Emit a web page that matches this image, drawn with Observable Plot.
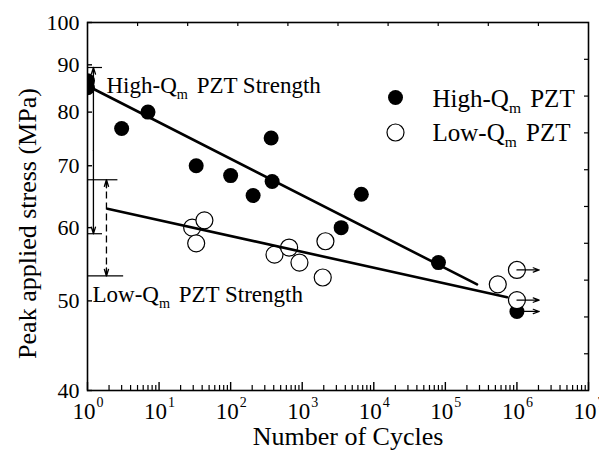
<!DOCTYPE html>
<html><head><meta charset="utf-8">
<script src="https://cdn.jsdelivr.net/npm/d3@7"></script>
<script src="https://cdn.jsdelivr.net/npm/@observablehq/plot@0.6"></script>
<style>body{margin:0;background:#fff;} svg{display:block}</style>
</head><body><div id="chart"></div>
<script>
// ---- data ----
const highCycles = [1, 1, 3, 7, 33, 100, 206, 368, 380, 3500, 6700, 80000, 1e6];
const highStress = [86.5, 85, 76.8, 80, 70, 68.3, 65, 75, 67.3, 60, 65.2, 55, 48.7];
const lowCycles = [29, 33, 43, 410, 656, 915, 1935, 2110, 5.4e5, 1e6, 1e6];
const lowStress = [60, 57.7, 61.1, 56.1, 57.1, 55, 53, 58, 52.1, 54, 50.1];
const highFitCycles = [1.2, 2.77e5];
const highFitStress = [84.8, 52.1];
const lowFitCycles = [1.9, 7.3e5];
const lowFitStress = [62.9, 50.45];
const runoutCycles = [1e6, 1e6, 1e6];
const runoutStress = [54.0, 50.1, 48.7];
const runoutEnd = 2.05e6;
const strengthNames = ["High-Q{m} PZT Strength", "Low-Q{m} PZT Strength"];
const strengthUpper = [89.4, 67.6];
const strengthLower = [59.1, 53.2];
const strengthArrowX = [1.21, 1.84];
const strengthUpperBarEnd = [1.62, 2.66];
const strengthLowerBarEnd = [1.62, 3.2];
const seriesNames = ["High-Q{m} PZT", "Low-Q{m} PZT"];
const yTicks = [40, 50, 60, 70, 80, 90, 100];
const xDecades = [1, 10, 100, 1e3, 1e4, 1e5, 1e6, 1e7];
const xExponents = ["0", "1", "2", "3", "4", "5", "6", "7"];
const topTicks = [5.01, 25.1, 126, 631, 3162, 15849, 79433, 398107, 1995262];
const rightTicks = [91.24, 83.26, 75.97, 69.31, 63.25, 57.71, 52.65, 48.04, 43.83];

// ---- tables ----
const high = highCycles.map((c, i) => ({c, s: highStress[i]}));
const low = lowCycles.map((c, i) => ({c, s: lowStress[i]}));
const highFit = highFitCycles.map((c, i) => ({c, s: highFitStress[i]}));
const lowFit = lowFitCycles.map((c, i) => ({c, s: lowFitStress[i]}));
const runouts = runoutCycles.map((c, i) => ({c, s: runoutStress[i]}));
const strength = strengthNames.map((n, i) => ({
  n, hi: strengthUpper[i], lo: strengthLower[i], ax: strengthArrowX[i],
  mid: Math.sqrt(strengthUpper[i] * strengthLower[i]),
  hiEnd: strengthUpperBarEnd[i], loEnd: strengthLowerBarEnd[i]
}));
const xMinor = [];
for (const d of xDecades.slice(0, -1)) for (let k = 2; k <= 9; k++) xMinor.push(d * k);

const W = 599, H = 452, mL = 87, mR = 11, mT = 22, mB = 62;
const iW = W - mL - mR, iH = H - mT - mB;
const font = "'Liberation Serif', 'Times New Roman', serif";
const M = {lineAnchor: "middle"};

const chart = Plot.plot({
  width: W, height: H,
  marginLeft: mL, marginRight: mR, marginTop: mT, marginBottom: mB,
  style: {fontFamily: font, fontSize: "22px", color: "#000", background: "#fff", overflow: "visible"},
  x: {type: "log", domain: [1, 1e7], axis: null},
  y: {type: "log", domain: [40, 100], axis: null},
  marks: [
    // ticks
    Plot.tickX(xMinor, {x: d => d, insetTop: iH - 5, strokeWidth: 1.2}),
    Plot.tickX(xDecades, {x: d => d, insetTop: iH - 8, strokeWidth: 1.4}),
    Plot.tickX(topTicks, {x: d => d, insetBottom: iH - 4, strokeWidth: 1.2}),
    Plot.tickY(yTicks, {y: d => d, insetRight: iW - 5, strokeWidth: 1.4}),
    Plot.tickY(rightTicks, {y: d => d, insetLeft: iW - 4, strokeWidth: 1.2}),
    // tick labels
    Plot.text(yTicks, {...M, y: d => d, text: d => String(d), frameAnchor: "left", dx: -8, textAnchor: "end", fontSize: 22}),
    Plot.text(xDecades, {...M, x: d => d, text: () => "10", frameAnchor: "bottom", dy: 21, dx: 8, textAnchor: "end", fontSize: 23}),
    Plot.text(xDecades, {...M, x: d => d, text: (d, i) => xExponents[i], frameAnchor: "bottom", dy: 12, dx: 9, textAnchor: "start", fontSize: 14}),
    // axis titles
    Plot.text(["Number of Cycles"], {...M, text: d => d, frameAnchor: "bottom", dy: 46, dx: 10, textAnchor: "middle", fontSize: 26}),
    Plot.text(["Peak applied stress (MPa)"], {...M, text: d => d, frameAnchor: "left", dx: -60, dy: 17, rotate: -90, textAnchor: "middle", fontSize: 26}),
    // data
    Plot.dot(high, {x: "c", y: "s", r: 7.5, fill: "#000", clip: true}),
    Plot.dot(low, {x: "c", y: "s", r: 8.5, fill: "#fff", stroke: "#000", strokeWidth: 1.2, clip: true}),
    Plot.line(highFit, {x: "c", y: "s", stroke: "#000", strokeWidth: 2.6}),
    Plot.line(lowFit, {x: "c", y: "s", stroke: "#000", strokeWidth: 2.6}),
    Plot.arrow(runouts, {x1: "c", y1: "s", x2: () => runoutEnd, y2: "s", headLength: 8, headAngle: 40, strokeWidth: 1.2}),
    // strength ranges
    Plot.ruleY(strength, {y: "hi", x1: () => 1, x2: "hiEnd", strokeWidth: 1.2}),
    Plot.ruleY(strength, {y: "lo", x1: () => 1, x2: "loEnd", strokeWidth: 1.2}),
    Plot.arrow(strength.slice(0, 1), {x1: "ax", y1: "mid", x2: "ax", y2: "hi", headLength: 8, headAngle: 35, strokeWidth: 1.3}),
    Plot.arrow(strength.slice(0, 1), {x1: "ax", y1: "mid", x2: "ax", y2: "lo", headLength: 8, headAngle: 35, strokeWidth: 1.3}),
    Plot.ruleX(strength.slice(1), {x: "ax", y1: "lo", y2: "hi", strokeWidth: 1.3, strokeDasharray: "7,4"}),
    Plot.arrow(strength.slice(1), {x1: "ax", y1: "mid", x2: "ax", y2: "hi", insetStart: 40, headLength: 8, headAngle: 35, strokeWidth: 1.3}),
    Plot.arrow(strength.slice(1), {x1: "ax", y1: "mid", x2: "ax", y2: "lo", insetStart: 40, headLength: 8, headAngle: 35, strokeWidth: 1.3}),
    Plot.text(strength.slice(0, 1), {...M, text: "n", frameAnchor: "top-left", dx: 19, dy: 63, textAnchor: "start", fontSize: 23}),
    Plot.text(strength.slice(1), {...M, text: "n", frameAnchor: "top-left", dx: 5, dy: 272, textAnchor: "start", fontSize: 23}),
    // legend
    Plot.dot([seriesNames[0]], {frameAnchor: "top-left", dx: 308, dy: 75, r: 7.5, fill: "#000"}),
    Plot.dot([seriesNames[1]], {frameAnchor: "top-left", dx: 308, dy: 110, r: 8.5, fill: "#fff", stroke: "#000", strokeWidth: 1.2}),
    Plot.text([seriesNames[0]], {...M, text: d => d, frameAnchor: "top-left", dx: 345, dy: 76, textAnchor: "start", fontSize: 25}),
    Plot.text([seriesNames[1]], {...M, text: d => d, frameAnchor: "top-left", dx: 345, dy: 110, textAnchor: "start", fontSize: 25}),
    Plot.frame({stroke: "#000", strokeWidth: 1.6})
  ]
});

// subscripts: "Q{m}" -> Q with subscript m
d3.select(chart).selectAll("text").each(function () {
  const t = this.textContent;
  if (!t.includes("{m}")) return;
  const [a, b] = t.split("{m}");
  const sel = d3.select(this);
  sel.text(null);
  sel.append("tspan").text(a);
  sel.append("tspan").attr("dy", 6).attr("font-size", "0.62em").text("m");
  sel.append("tspan").attr("dy", -6).attr("dx", 3).text(b);
});

document.getElementById("chart").append(chart);
</script>
</body></html>
